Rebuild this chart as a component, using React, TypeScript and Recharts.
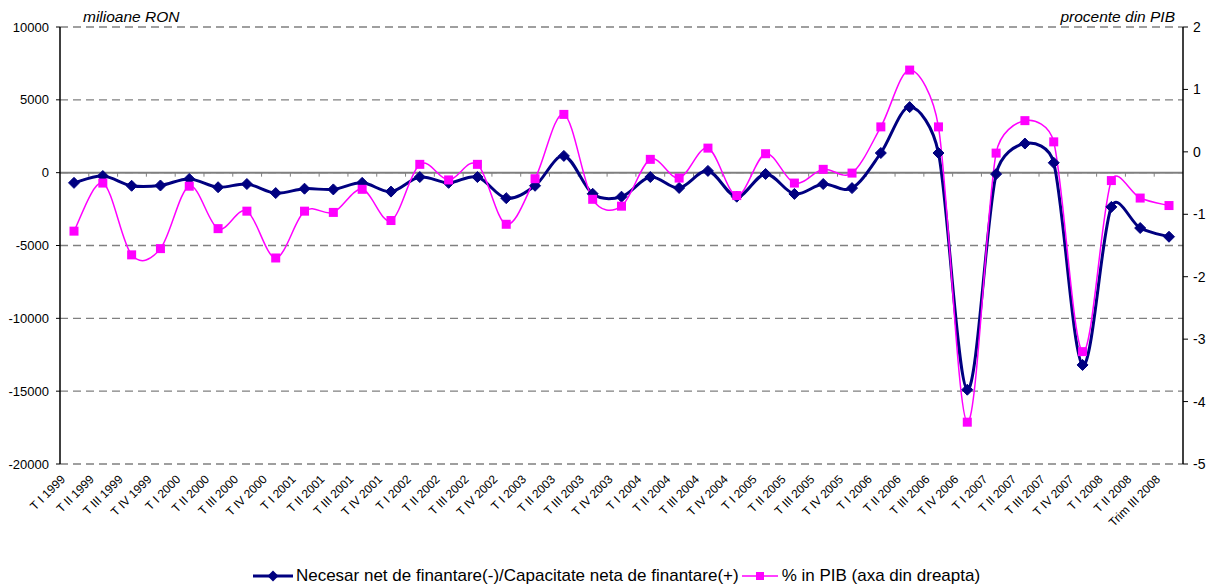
import React from "react";
import {
  LineChart,
  Line,
  XAxis,
  YAxis,
  CartesianGrid,
  ReferenceLine,
  Legend,
} from "recharts";

// trimestre
const quarters = [
  "T I 1999", "T II 1999", "T III 1999", "T IV 1999",
  "T I 2000", "T II 2000", "T III 2000", "T IV 2000",
  "T I 2001", "T II 2001", "T III 2001", "T IV 2001",
  "T I 2002", "T II 2002", "T III 2002", "T IV 2002",
  "T I 2003", "T II 2003", "T III 2003", "T IV 2003",
  "T I 2004", "T II 2004", "T III 2004", "T IV 2004",
  "T I 2005", "T II 2005", "T III 2005", "T IV 2005",
  "T I 2006", "T II 2006", "T III 2006", "T IV 2006",
  "T I 2007", "T II 2007", "T III 2007", "T IV 2007",
  "T I 2008", "T II 2008", "Trim III 2008",
];

// milioane RON (axa stanga)
const necesar = [
  -700, -230, -900, -880,
  -430, -1000, -780, -1400,
  -1100, -1150, -700, -1300,
  -300, -700, -300, -1750,
  -900, 1150, -1450, -1650,
  -300, -1050, 120, -1650,
  -90, -1460, -780, -1060,
  1350, 4500, 1350, -14900,
  -100, 2000, 680, -13200,
  -2350, -3800, -4400,
];

// procente din PIB (axa dreapta)
const procentPib = [
  -1.27, -0.5, -1.65, -1.55,
  -0.55, -1.23, -0.95, -1.7,
  -0.95, -0.97, -0.6, -1.1,
  -0.2, -0.45, -0.2, -1.16,
  -0.43, 0.6, -0.76, -0.87,
  -0.12, -0.42, 0.06, -0.7,
  -0.03, -0.5, -0.28, -0.34,
  0.4, 1.31, 0.4, -4.33,
  -0.02, 0.5, 0.16, -3.2,
  -0.46, -0.74, -0.86,
];

const leftTicks = [-20000, -15000, -10000, -5000, 0, 5000, 10000];
const rightTicks = [-5, -4, -3, -2, -1, 0, 1, 2];

const data = quarters.map((q, i) => ({
  name: q,
  necesar: necesar[i],
  pib: procentPib[i],
}));

const NAVY = "#000080";
const PINK = "#FF00FF";
const FONT = "Arial, 'Liberation Sans', sans-serif";

const dist = (a: number[], b: number[]) => Math.hypot(b[0] - a[0], b[1] - a[1]);

// Excel-like smoothed line: bezier with 1/6 tangents, capped at half the segment
const smoothCurve = (context: any) => {
  let pts: number[][] = [];
  return {
    areaStart() {},
    areaEnd() {},
    lineStart() {
      pts = [];
    },
    point(x: number, y: number) {
      pts.push([+x, +y]);
    },
    lineEnd() {
      const n = pts.length;
      if (!n) return;
      context.moveTo(pts[0][0], pts[0][1]);
      for (let i = 0; i < n - 1; i++) {
        const p0 = pts[i - 1] || pts[i];
        const p1 = pts[i];
        const p2 = pts[i + 1];
        const p3 = pts[i + 2] || p2;
        const d12 = dist(p1, p2);
        const d02 = dist(p0, p2);
        const d13 = dist(p1, p3);
        let f1 = 1 / 6;
        let f2 = 1 / 6;
        if (d02 / 6 > d12 / 2) f1 = d12 / (2 * d02);
        if (d13 / 6 > d12 / 2) f2 = d12 / (2 * d13);
        context.bezierCurveTo(
          p1[0] + (p2[0] - p0[0]) * f1,
          p1[1] + (p2[1] - p0[1]) * f1,
          p2[0] - (p3[0] - p1[0]) * f2,
          p2[1] - (p3[1] - p1[1]) * f2,
          p2[0],
          p2[1]
        );
      }
    },
  };
};

const Diamond = (props: any) => {
  const { cx, cy } = props;
  if (cx == null || cy == null) return null;
  const r = 5.5;
  return (
    <polygon
      points={`${cx},${cy - r} ${cx + r},${cy} ${cx},${cy + r} ${cx - r},${cy}`}
      fill={NAVY}
      stroke={NAVY}
      strokeWidth={1}
    />
  );
};

const Square = (props: any) => {
  const { cx, cy } = props;
  if (cx == null || cy == null) return null;
  const s = 4.5;
  return <rect x={cx - s} y={cy - s} width={s * 2} height={s * 2} fill={PINK} />;
};

const RotTick = (props: any) => {
  const { x, y, payload } = props;
  const ax = x - 8;
  const ay = y + 8;
  return (
    <text
      x={ax}
      y={ay}
      transform={`rotate(-45, ${ax}, ${ay})`}
      textAnchor="end"
      fontSize={12}
      fontFamily={FONT}
      fill="#000"
    >
      {payload.value}
    </text>
  );
};

// zero line of the category axis, with tick marks between categories
const ZeroAxis = (props: any) => {
  const { x1, x2, y1 } = props;
  if (x1 == null) return null;
  const step = (x2 - x1) / quarters.length;
  const marks = [];
  for (let k = 1; k < quarters.length; k++) {
    const xx = x1 + step * k;
    marks.push(<line key={k} x1={xx} x2={xx} y1={y1} y2={y1 + 4} stroke="#808080" strokeWidth={1} />);
  }
  return (
    <g>
      <line x1={x1} x2={x2} y1={y1} y2={y1} stroke="#808080" strokeWidth={2} />
      {marks}
    </g>
  );
};

const LegendBox = () => (
  <div
    style={{
      display: "flex",
      justifyContent: "center",
      alignItems: "center",
      height: 16,
      lineHeight: "16px",
      fontFamily: FONT,
      fontSize: 17,
      color: "#000",
      paddingLeft: 22,
    }}
  >
    <svg width={40} height={14}>
      <line x1={0} x2={40} y1={7} y2={7} stroke={NAVY} strokeWidth={3} />
      <polygon points="20,1.5 25.5,7 20,12.5 14.5,7" fill={NAVY} />
    </svg>
    <span style={{ marginLeft: 3 }}>Necesar net de finantare(-)/Capacitate neta de finantare(+)</span>
    <svg width={36} height={14} style={{ marginLeft: 3 }}>
      <line x1={0} x2={36} y1={7} y2={7} stroke={PINK} strokeWidth={1.5} />
      <rect x={14} y={3} width={8} height={8} fill={PINK} />
    </svg>
    <span style={{ marginLeft: 4 }}>% in PIB (axa din dreapta)</span>
  </div>
);

const App = () => {
  return (
    <div style={{ position: "absolute", left: 0, top: 0, width: 1211, height: 584, background: "#fff" }}>
      <div
        style={{
          position: "absolute",
          left: 83,
          top: 8,
          fontFamily: FONT,
          fontStyle: "italic",
          fontSize: 15.5,
        }}
      >
        milioane RON
      </div>
      <div
        style={{
          position: "absolute",
          right: 36,
          top: 8,
          fontFamily: FONT,
          fontStyle: "italic",
          fontSize: 15.5,
        }}
      >
        procente din PIB
      </div>
      <LineChart
        width={1211}
        height={584}
        data={data}
        margin={{ top: 27, right: 0, bottom: 0, left: 0 }}
      >
        <CartesianGrid
          yAxisId="left"
          vertical={false}
          stroke="#808080"
          strokeWidth={1.3}
          strokeDasharray="8 5"
        />
        <XAxis
          dataKey="name"
          interval={0}
          height={104}
          padding={{ left: 14, right: 14 }}
          axisLine={false}
          tickLine={false}
          tick={<RotTick />}
        />
        <YAxis
          yAxisId="left"
          width={60}
          domain={[-20000, 10000]}
          ticks={leftTicks}
          interval={0}
          axisLine={{ stroke: "#000", strokeWidth: 1.5 }}
          tickLine={{ stroke: "#000" }}
          tickSize={4}
          tickMargin={7}
          tick={{ fontSize: 13, fontFamily: FONT, fill: "#000" }}
        />
        <YAxis
          yAxisId="right"
          orientation="right"
          width={28}
          domain={[-5, 2]}
          ticks={rightTicks}
          interval={0}
          axisLine={{ stroke: "#000", strokeWidth: 1.5 }}
          tickLine={{ stroke: "#000" }}
          tickSize={5}
          tickMargin={5}
          tick={{ fontSize: 14, fontFamily: FONT, fill: "#000" }}
        />
        <ReferenceLine yAxisId="left" y={0} shape={<ZeroAxis />} />
        <Line
          yAxisId="left"
          dataKey="necesar"
          type={smoothCurve as any}
          stroke={NAVY}
          strokeWidth={3}
          dot={<Diamond />}
          activeDot={false}
          isAnimationActive={false}
        />
        <Line
          yAxisId="right"
          dataKey="pib"
          type={smoothCurve as any}
          stroke={PINK}
          strokeWidth={1.5}
          dot={<Square />}
          activeDot={false}
          isAnimationActive={false}
        />
        <Legend
          verticalAlign="bottom"
          height={16}
          content={<LegendBox />}
        />
      </LineChart>
    </div>
  );
};

export default App;
